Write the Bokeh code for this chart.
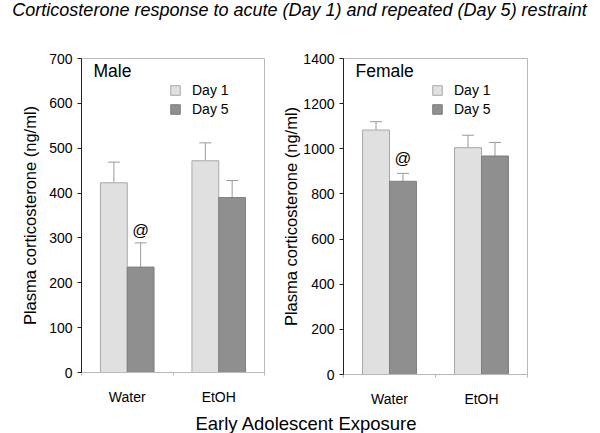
from bokeh.plotting import figure
from bokeh.models import (Range1d, FixedTicker, Label, Whisker, TeeHead,
                          ColumnDataSource, Legend, LegendItem)
from bokeh.layouts import column, row
from bokeh.embed import file_html
from bokeh.resources import INLINE

# ---------------- data ----------------
groups = ["Water", "EtOH"]
series = ["Day 1", "Day 5"]
male_day1 = [423, 472]
male_day1_err = [46, 40]
male_day5 = [235, 390]
male_day5_err = [54, 38]
female_day1 = [1083, 1005]
female_day1_err = [37, 55]
female_day5 = [856, 968]
female_day5_err = [35, 60]
male_ticks = [0, 100, 200, 300, 400, 500, 600, 700]
female_ticks = [0, 200, 400, 600, 800, 1000, 1200, 1400]
title_text = "Corticosterone response to acute (Day 1) and repeated (Day 5) restraint"
x_title = "Early Adolescent Exposure"
y_title = "Plasma corticosterone (ng/ml)"

FONT = "Liberation Sans"
C_LIGHT = "#e0e0e0"
C_LIGHT_LINE = "#a8a8a8"
C_DARK = "#8f8f8f"
C_DARK_LINE = "#7f7f7f"
C_ERR = "#9a9a9a"
C_FRAME = "#b8b8b8"

BAR_W = 0.293
OFF = BAR_W / 2


def panel(day1, day1_err, day5, day5_err, ticks, name, frame_w, frame_h,
          top_b, bot_b, left_b, right_b, axis_label_standoff, at_offset):
    ymax = ticks[-1]
    p = figure(frame_width=frame_w, frame_height=frame_h,
               x_range=Range1d(0, len(groups)), y_range=Range1d(0, ymax),
               output_backend="svg", toolbar_location=None,
               min_border_left=left_b, min_border_right=right_b,
               min_border_top=top_b, min_border_bottom=bot_b)
    p.xgrid.visible = False
    p.ygrid.visible = False
    p.outline_line_color = C_FRAME
    p.outline_line_width = 1
    p.background_fill_color = "white"
    p.border_fill_color = "white"

    centers = [i + 0.5 for i in range(len(groups))]
    x1 = [c - OFF for c in centers]
    x5 = [c + OFF for c in centers]
    src1 = ColumnDataSource(dict(x=x1, top=day1,
                                 up=[v + e for v, e in zip(day1, day1_err)]))
    src5 = ColumnDataSource(dict(x=x5, top=day5,
                                 up=[v + e for v, e in zip(day5, day5_err)]))
    r1 = p.vbar(x="x", top="top", width=BAR_W, source=src1,
                fill_color=C_LIGHT, line_color=C_LIGHT_LINE, line_width=1)
    r5 = p.vbar(x="x", top="top", width=BAR_W, source=src5,
                fill_color=C_DARK, line_color=C_DARK_LINE, line_width=1)
    for src in (src1, src5):
        w = Whisker(base="x", lower="top", upper="up", source=src,
                    line_color=C_ERR, line_width=1,
                    lower_head=None,
                    upper_head=TeeHead(size=12, line_color=C_ERR, line_width=1))
        p.add_layout(w)

    # x axis
    xa = p.xaxis[0]
    xa.ticker = FixedTicker(ticks=centers, minor_ticks=[0, 1, 2])
    xa.major_label_overrides = {c: g for c, g in zip(centers, groups)}
    xa.major_tick_out = 0
    xa.major_tick_in = 0
    xa.minor_tick_out = 3
    xa.minor_tick_in = 0
    xa.minor_tick_line_color = C_FRAME
    xa.axis_line_color = C_FRAME
    xa.major_label_standoff = 13
    xa.major_label_text_font = FONT
    xa.major_label_text_font_size = "14px"
    xa.major_label_text_color = "black"

    # y axis
    ya = p.yaxis[0]
    ya.ticker = FixedTicker(ticks=ticks)
    ya.minor_tick_line_color = None
    ya.major_tick_out = 4
    ya.major_tick_in = 0
    ya.axis_line_color = "#222222"
    ya.major_tick_line_color = "#222222"
    ya.major_label_standoff = 5
    ya.major_label_text_font = FONT
    ya.major_label_text_font_size = "14px"
    ya.major_label_text_color = "black"
    ya.axis_label = y_title
    ya.axis_label_text_font = FONT
    ya.axis_label_text_font_size = "16.5px"
    ya.axis_label_text_font_style = "normal"
    ya.axis_label_text_color = "black"
    ya.axis_label_standoff = axis_label_standoff

    # panel name
    p.add_layout(Label(x=12, y=frame_h - 12, x_units="screen", y_units="screen",
                       text=name, text_font=FONT, text_font_size="17.5px",
                       text_color="black", text_baseline="alphabetic"))

    # significance mark above Water Day 5
    p.add_layout(Label(x=x5[0], y=src5.data["up"][0], text="@",
                       text_font=FONT, text_font_size="16.5px", text_color="black",
                       text_align="center", text_baseline="middle",
                       y_offset=at_offset))

    legend = Legend(items=[LegendItem(label=series[0], renderers=[r1]),
                           LegendItem(label=series[1], renderers=[r5])],
                    location=(88, frame_h - 59), orientation="vertical",
                    border_line_color=None, background_fill_alpha=0,
                    padding=0, margin=0, spacing=3,
                    glyph_width=12, glyph_height=12, label_height=12,
                    label_standoff=11, label_text_font=FONT,
                    label_text_font_size="14px", label_text_color="black")
    p.add_layout(legend)
    return p


p1 = panel(male_day1, male_day1_err, male_day5, male_day5_err, male_ticks,
           "Male", 183, 314, 36, 33, 81, 8, 7, 13)
p2 = panel(female_day1, female_day1_err, female_day5, female_day5_err,
           female_ticks, "Female", 184, 316, 33, 34, 71, 73, 0, 15)

# title strip
t = figure(width=600, height=22, x_range=Range1d(0, 600), y_range=Range1d(0, 22),
           output_backend="svg", toolbar_location=None,
           min_border=0, outline_line_color=None)
t.axis.visible = False
t.grid.visible = False
t.add_layout(Label(x=299, y=13, text=title_text, text_font=FONT,
                   text_font_size="18px", text_font_style="italic",
                   text_align="center", text_baseline="alphabetic",
                   text_color="black"))

# x title strip
b = figure(width=600, height=27, x_range=Range1d(0, 600), y_range=Range1d(0, 27),
           output_backend="svg", toolbar_location=None,
           min_border=0, outline_line_color=None)
b.axis.visible = False
b.grid.visible = False
b.add_layout(Label(x=306, y=11, text=x_title, text_font=FONT,
                   text_font_size="18.5px", text_align="center",
                   text_baseline="alphabetic", text_color="black"))

layout = column(t, row(p1, p2), b)
open("out.html", "w").write(file_html(layout, INLINE))
